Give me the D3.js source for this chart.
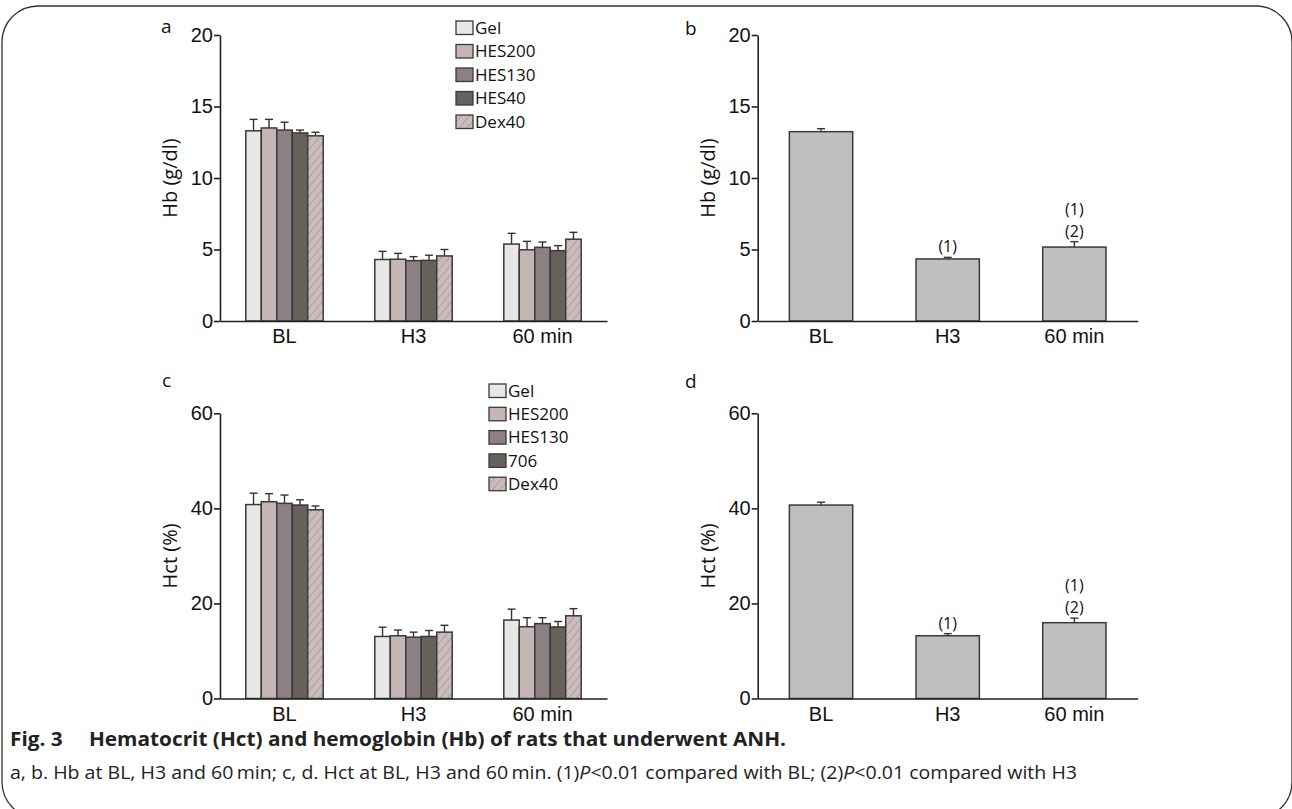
<!DOCTYPE html>
<html>
<head>
<meta charset="utf-8">
<script src="https://cdn.jsdelivr.net/npm/d3@7"></script>
<style>
  body { margin: 0; background: #fff; }
  svg { display: block; font-family: "Open Sans", "DejaVu Sans", sans-serif; }
  .axis text { font-size: 20px; fill: #111; }
  .axis path, .axis line { stroke: #222; stroke-width: 1.6; }
</style>
</head>
<body>
<svg id="chart" width="1292" height="809"></svg>
<script>
// categories
const times = ["BL", "H3", "60 min"]
const groupsHb = ["Gel", "HES200", "HES130", "HES40", "Dex40"]
const groupsHct = ["Gel", "HES200", "HES130", "706", "Dex40"]

// per time point, one value per group
const hbMean = [
  [13.3, 13.5, 13.35, 13.15, 12.95],
  [4.3, 4.32, 4.22, 4.24, 4.55],
  [5.38, 4.98, 5.15, 4.92, 5.72],
]
const hbSd = [
  [0.8, 0.6, 0.55, 0.2, 0.25],
  [0.57, 0.41, 0.28, 0.36, 0.45],
  [0.75, 0.59, 0.37, 0.35, 0.48],
]
const hctMean = [
  [40.8, 41.4, 41.05, 40.7, 39.7],
  [13.05, 13.2, 12.9, 13.05, 13.96],
  [16.5, 15.1, 15.75, 15.05, 17.4],
]
const hctSd = [
  [2.4, 1.7, 1.75, 1.1, 0.8],
  [1.95, 1.2, 1.06, 1.25, 1.44],
  [2.3, 1.9, 1.25, 1.15, 1.5],
]

// pooled
const hbPooled = [13.24, 4.34, 5.17]
const hbPooledSd = [0.21, 0.11, 0.38]
const hctPooled = [40.7, 13.2, 15.95]
const hctPooledSd = [0.6, 0.45, 0.95]
const sigLabels = [[], ["(1)"], ["(1)", "(2)"]]

const hbTicks = [0, 5, 10, 15, 20]
const hctTicks = [0, 20, 40, 60]

const fills = ["#e7e7e7", "#c6b5b5", "#8d8084", "#66625b", "url(#hatch)"]

const svg = d3.select("#chart")

///// DEFS /////
const defs = svg.append("defs")
const hatch = defs.append("pattern")
  .attr("id", "hatch")
  .attr("patternUnits", "userSpaceOnUse")
  .attr("width", 6)
  .attr("height", 6)
  .attr("patternTransform", "rotate(40)")
hatch.append("rect").attr("width", 6).attr("height", 6).attr("fill", "#cbbcbc")
hatch.append("line")
  .attr("x1", 0).attr("y1", 0).attr("x2", 0).attr("y2", 6)
  .attr("stroke", "#9c8d8d").attr("stroke-width", 1.2)

// frame
svg.append("rect")
  .attr("x", 2).attr("y", 6)
  .attr("width", 1290).attr("height", 812)
  .attr("rx", 36)
  .attr("fill", "none")
  .attr("stroke", "#333")
  .attr("stroke-width", 1.3)

///// HELPERS /////
function drawAxes(g, x, y, ticks, title, x0) {
  g.append("g")
    .attr("class", "axis")
    .attr("transform", `translate(0,${y(0)})`)
    .call(d3.axisBottom(x).tickSize(0).tickPadding(8))

  g.append("g")
    .attr("class", "axis")
    .attr("transform", `translate(${x0},0)`)
    .call(d3.axisLeft(y).tickValues(ticks).tickSize(6).tickSizeOuter(0).tickPadding(1))

  const yMid = (y.range()[0] + y.range()[1]) / 2
  g.append("text")
    .attr("transform", `translate(${x0 - 43},${yMid}) rotate(-90)`)
    .attr("text-anchor", "middle")
    .attr("font-size", 20)
    .attr("fill", "#111")
    .text(title)
}

function errorBar(g, cx, yTop, yBase) {
  g.append("line")
    .attr("x1", cx).attr("x2", cx)
    .attr("y1", yBase).attr("y2", yTop)
    .attr("stroke", "#333").attr("stroke-width", 1.4)
  g.append("line")
    .attr("x1", cx - 4).attr("x2", cx + 4)
    .attr("y1", yTop).attr("y2", yTop)
    .attr("stroke", "#333").attr("stroke-width", 1.4)
}

function groupedPanel(opts) {
  const g = svg.append("g")
  const x = d3.scaleBand().domain(times).range(opts.xRange).paddingInner(0.4).paddingOuter(0.2)
  const xi = d3.scaleBand().domain(opts.groups).range([0, x.bandwidth()])
  const y = d3.scaleLinear().domain(opts.yDomain).range(opts.yRange)

  times.forEach((t, ti) => {
    const gt = g.append("g").attr("transform", `translate(${x(t)},0)`)
    opts.groups.forEach((grp, gi) => {
      const m = opts.mean[ti][gi]
      const cx = xi(grp) + xi.bandwidth() / 2
      errorBar(gt, cx, y(m + opts.sd[ti][gi]), y(m))
      gt.append("rect")
        .attr("x", xi(grp))
        .attr("y", y(m))
        .attr("width", xi.bandwidth())
        .attr("height", y(0) - y(m))
        .attr("fill", fills[gi])
        .attr("stroke", "#3a3a3a")
        .attr("stroke-width", 1.5)
    })
  })

  drawAxes(g, x, y, opts.ticks, opts.title, opts.xRange[0])

  // legend
  const lg = g.append("g").attr("transform", `translate(${opts.legend[0]},${opts.legend[1]})`)
  opts.groups.forEach((grp, gi) => {
    const row = lg.append("g").attr("transform", `translate(0,${gi * opts.legendStep})`)
    row.append("rect")
      .attr("x", 0).attr("y", -6.5)
      .attr("width", 17).attr("height", 13.5)
      .attr("fill", fills[gi])
      .attr("stroke", "#3a3a3a")
      .attr("stroke-width", 1.3)
    row.append("text")
      .attr("x", 19).attr("y", 6.2)
      .attr("font-size", 17)
      .attr("fill", "#111")
      .text(grp)
  })

  svg.append("text")
    .attr("x", opts.label[0]).attr("y", opts.label[1])
    .attr("font-size", 19).attr("fill", "#111")
    .text(opts.labelText)
}

function pooledPanel(opts) {
  const g = svg.append("g")
  const x = d3.scaleBand().domain(times).range(opts.xRange).paddingInner(0.5).paddingOuter(0.25)
  const y = d3.scaleLinear().domain(opts.yDomain).range(opts.yRange)

  times.forEach((t, ti) => {
    const m = opts.mean[ti]
    const top = y(m + opts.sd[ti])
    const cx = x(t) + x.bandwidth() / 2
    errorBar(g, cx, top, y(m))
    g.append("rect")
      .attr("x", x(t))
      .attr("y", y(m))
      .attr("width", x.bandwidth())
      .attr("height", y(0) - y(m))
      .attr("fill", "#bfbfc1")
      .attr("stroke", "#3a3a3a")
      .attr("stroke-width", 1.5)

    const labs = sigLabels[ti]
    labs.forEach((s, si) => {
      g.append("text")
        .attr("x", cx)
        .attr("y", top - 5 - (labs.length - 1 - si) * 22)
        .attr("text-anchor", "middle")
        .attr("font-size", 16)
        .attr("fill", "#111")
        .text(s)
    })
  })

  drawAxes(g, x, y, opts.ticks, opts.title, opts.xRange[0])

  svg.append("text")
    .attr("x", opts.label[0]).attr("y", opts.label[1])
    .attr("font-size", 19).attr("fill", "#111")
    .text(opts.labelText)
}

///// PANELS /////
groupedPanel({
  groups: groupsHb, mean: hbMean, sd: hbSd,
  xRange: [220, 607], yDomain: [0, 20], yRange: [321, 35], ticks: hbTicks,
  title: "Hb (g/dl)", legend: [456, 27.5], legendStep: 23.5,
  label: [161, 33], labelText: "a",
})

pooledPanel({
  mean: hbPooled, sd: hbPooledSd,
  xRange: [757.7, 1137.7], yDomain: [0, 20], yRange: [321, 35], ticks: hbTicks,
  title: "Hb (g/dl)", label: [685, 35], labelText: "b",
})

groupedPanel({
  groups: groupsHct, mean: hctMean, sd: hctSd,
  xRange: [220, 607], yDomain: [0, 60], yRange: [698.5, 413.3], ticks: hctTicks,
  title: "Hct (%)", legend: [489, 390.5], legendStep: 23.3,
  label: [162, 387], labelText: "c",
})

pooledPanel({
  mean: hctPooled, sd: hctPooledSd,
  xRange: [757.7, 1137.7], yDomain: [0, 60], yRange: [698.5, 413.3], ticks: hctTicks,
  title: "Hct (%)", label: [685, 388], labelText: "d",
})

///// CAPTION /////
const cap1 = svg.append("text")
  .attr("x", 10).attr("y", 746)
  .attr("font-size", 19).attr("font-weight", "bold").attr("fill", "#222")
  .attr("textLength", 776).attr("lengthAdjust", "spacingAndGlyphs")
cap1.append("tspan").text("Fig. 3")
cap1.append("tspan").attr("dx", 24).text("Hematocrit (Hct) and hemoglobin (Hb) of rats that underwent ANH.")

const cap2 = svg.append("text")
  .attr("x", 10).attr("y", 779)
  .attr("font-size", 19).attr("fill", "#222")
  .attr("textLength", 1067).attr("lengthAdjust", "spacingAndGlyphs")
cap2.append("tspan").text("a, b. Hb at BL, H3 and 60\u2009min; c, d. Hct at BL, H3 and 60\u2009min. (1)")
cap2.append("tspan").attr("font-style", "italic").text("P")
cap2.append("tspan").text("<0.01 compared with BL; (2)")
cap2.append("tspan").attr("font-style", "italic").text("P")
cap2.append("tspan").text("<0.01 compared with H3")
</script>
</body>
</html>
